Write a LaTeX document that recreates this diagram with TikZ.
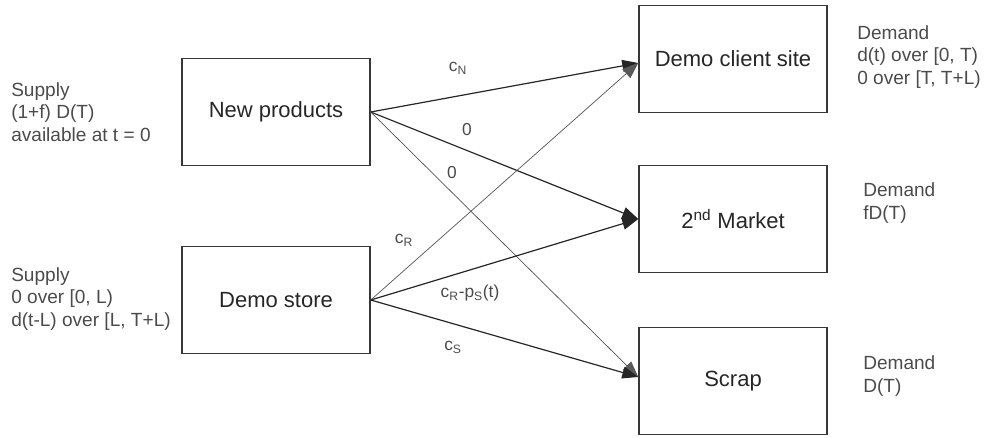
\documentclass[tikz,border=0pt]{standalone}
\usepackage{fontspec}
\setmainfont{Liberation Sans}
\usetikzlibrary{arrows.meta, positioning}
\definecolor{boxgray}{RGB}{55, 55, 55}
\definecolor{textgray}{RGB}{75, 75, 75}

\begin{document}
\begin{tikzpicture}[x=0.75pt, y=-0.75pt,
  sitebox/.style={draw=boxgray, line width=1.1pt, minimum width=141pt, minimum height=80pt, inner sep=0pt, font=\fontsize{16.5}{19}\selectfont, text=black!85},
  sidenote/.style={align=left, anchor=west, inner sep=0pt, font=\fontsize{14.3}{17}\selectfont, text=textgray},
  flow/.style={-{Triangle[length=12pt,width=9pt]}, line width=0.9pt, black!85},
  thinflow/.style={flow, line width=0.55pt, black!65},
  cost/.style={font=\fontsize{13}{15}\selectfont, text=textgray, inner sep=0pt}
]
  \useasboundingbox (0,0) rectangle (985,438);

  % supply side
  \node[sitebox] (newprod) at (276, 112) {New products};
  \node[sitebox] (store) at (276, 300) {Demo store};

  % demand side
  \node[sitebox] (client) at (733, 59) {Demo client site};
  \node[sitebox] (market) at (733, 219) {2\textsuperscript{nd} Market};
  \node[sitebox] (scrap) at (733, 381) {Scrap};

  % notes
  \node[sidenote] (supplynew) at (11, 112) {Supply\\(1+f) D(T)\\available at t = 0};
  \node[sidenote] (supplystore) at (11, 299) {Supply\\0 over [0, L)\\d(t-L) over [L, T+L)};
  \node[sidenote] (demclient) at (857, 57) {Demand\\d(t) over [0, T)\\0 over [T, T+L)};
  \node[sidenote] (demmarket) at (863, 203) {Demand\\fD(T)};
  \node[sidenote] (demscrap) at (863, 376) {Demand\\D(T)};

  % flows
  \draw[flow] (newprod.east) -- ([yshift=-3pt]client.west);
  \draw[flow] (newprod.east) -- (market.west);
  \draw[thinflow] (newprod.east) -- ([yshift=3pt]scrap.west);
  \draw[thinflow] (store.east) -- ([yshift=-3pt]client.west);
  \draw[flow] (store.east) -- (market.west);
  \draw[flow] (store.east) -- ([yshift=3pt]scrap.west);

  % costs
  \node[cost] (cn) at (458, 68) {c\textsubscript{N}};
  \node[cost] (zeromk) at (467, 130) {0};
  \node[cost] (zerosc) at (452, 173) {0};
  \node[cost] (cr) at (404, 240) {c\textsubscript{R}};
  \node[cost] (crps) at (470, 293) {c\textsubscript{R}-p\textsubscript{S}(t)};
  \node[cost] (cs) at (453, 347) {c\textsubscript{S}};
\end{tikzpicture}
\end{document}
